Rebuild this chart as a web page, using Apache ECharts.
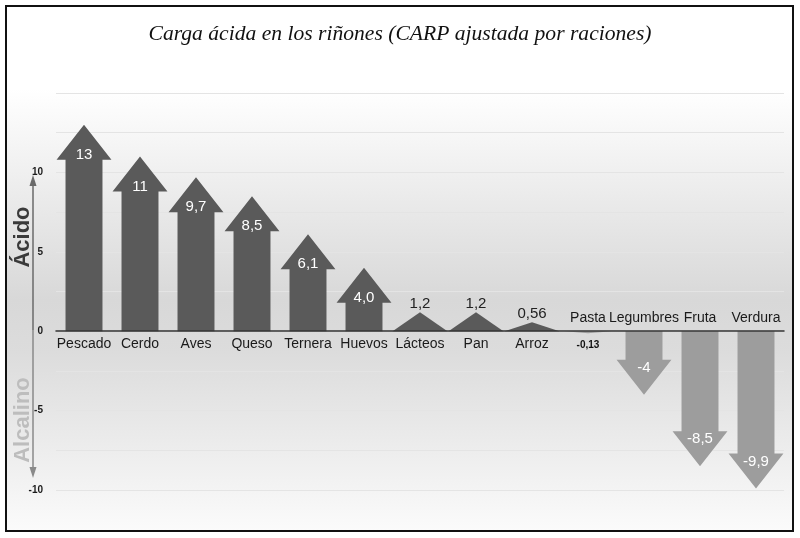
<!DOCTYPE html>
<html><head><meta charset="utf-8">
<script src="https://cdn.jsdelivr.net/npm/echarts@6/dist/echarts.min.js"></script>
<style>html,body{margin:0;padding:0;background:#fff}#c{width:800px;height:538px}</style>
</head><body><div id="c"></div>
<script>
const categories = ['Pescado','Cerdo','Aves','Queso','Ternera','Huevos','Lácteos','Pan','Arroz','Pasta','Legumbres','Fruta','Verdura'];
const values = [13, 11, 9.7, 8.5, 6.1, 4.0, 1.2, 1.2, 0.56, -0.13, -4, -8.5, -9.9];
const valueLabels = ['13','11','9,7','8,5','6,1','4,0','1,2','1,2','0,56','-0,13','-4','-8,5','-9,9'];
const yLabelTicks = [-10, -5, 0, 5, 10];

const chart = echarts.init(document.getElementById('c'), null, {renderer: 'canvas'});
const SANS = 'Liberation Sans, Arial, Helvetica, sans-serif';

function renderItem(params, api) {
  const i = api.value(0), v = api.value(1);
  const base = api.coord([i, 0]);
  const tip = api.coord([i, v]);
  const band = api.size([1, 0])[0];
  const cx = base[0];
  const shaftW = band * 0.66, headW = band * 0.98;
  const len = Math.abs(tip[1] - base[1]);
  const pos = v >= 0;
  const dir = pos ? -1 : 1;
  const headH = 35;
  let pts;
  const full = len > headH + 0.5;
  if (full) {
    const hb = tip[1] - dir * headH;
    pts = [[cx - shaftW / 2, base[1]], [cx - shaftW / 2, hb], [cx - headW / 2, hb], [cx, tip[1]],
           [cx + headW / 2, hb], [cx + shaftW / 2, hb], [cx + shaftW / 2, base[1]]];
  } else {
    const w = pos ? headW : headW * 0.85;
    pts = [[cx - w / 2, base[1]], [cx, tip[1]], [cx + w / 2, base[1]]];
  }
  const fill = pos ? '#5a5a5a' : '#9d9d9d';
  const children = [{
    type: 'polygon', shape: {points: pts}, style: {fill: fill}
  }];
  let lx = cx, ly, lstyle;
  if (full) {
    ly = pos ? tip[1] + 30 : tip[1] - 27;
    lstyle = {fill: '#fff', font: '15px ' + SANS};
  } else if (pos) {
    ly = tip[1] - 8;
    lstyle = {fill: '#222', font: '15px ' + SANS};
  } else {
    ly = base[1] + 14;
    lstyle = {fill: '#111', font: 'bold 10px ' + SANS};
  }
  children.push({
    type: 'text', z2: 10,
    style: Object.assign({text: valueLabels[i], x: lx, y: ly, align: 'center', verticalAlign: 'middle'}, lstyle)
  });
  children.push({
    type: 'text', z2: 10,
    style: {text: categories[i], x: cx, y: pos ? base[1] + 13 : base[1] - 13, align: 'center', verticalAlign: 'middle',
            fill: '#1a1a1a', font: '14px ' + SANS}
  });
  return {type: 'group', children: children};
}

const axisArrowX = 33;
chart.setOption({
  animation: false,
  backgroundColor: '#fff',
  title: {
    text: 'Carga ácida en los riñones (CARP ajustada por raciones)',
    left: 'center', top: 18,
    textStyle: {fontFamily: 'Liberation Serif, Times New Roman, serif', fontStyle: 'italic', fontWeight: 'normal', fontSize: 21.6, color: '#111'}
  },
  grid: {left: 56, right: 16, top: 93, bottom: 48},
  xAxis: {
    type: 'category', data: categories,
    axisLine: {onZero: true, lineStyle: {color: '#333', width: 1.5}},
    axisTick: {show: false}, axisLabel: {show: false}, z: 5
  },
  yAxis: {
    type: 'value', min: -10, max: 15, interval: 2.5,
    axisLine: {show: false}, axisTick: {show: false},
    splitLine: {lineStyle: {color: '#e4e4e4', width: 1}},
    axisLabel: {
      margin: 13, color: '#1a1a1a', fontSize: 10, fontWeight: 'bold',
      fontFamily: 'Liberation Sans Narrow, Arial Narrow, ' + SANS,
      formatter: function (val) { return yLabelTicks.indexOf(val) >= 0 ? String(val) : ''; }
    }
  },
  graphic: [
    {type: 'rect', z: -100, silent: true, shape: {x: 6, y: 6, width: 787, height: 525},
     style: {fill: new echarts.graphic.LinearGradient(0, 0, 0, 1, [
       {offset: 0, color: '#ffffff'}, {offset: 0.16, color: '#ffffff'},
       {offset: 0.56, color: '#d8d8d8'}, {offset: 0.66, color: '#dcdcdc'}, {offset: 1, color: '#fbfbfb'}]),
       stroke: '#111', lineWidth: 2}},
    {type: 'line', z: 10, shape: {x1: axisArrowX, y1: 180, x2: axisArrowX, y2: 330}, style: {stroke: '#6a6a6a', lineWidth: 1.5}},
    {type: 'line', z: 10, shape: {x1: axisArrowX, y1: 330, x2: axisArrowX, y2: 473}, style: {stroke: '#8a8a8a', lineWidth: 1.5}},
    {type: 'polygon', z: 10, shape: {points: [[axisArrowX, 175], [axisArrowX - 3.5, 186], [axisArrowX + 3.5, 186]]}, style: {fill: '#6a6a6a'}},
    {type: 'polygon', z: 10, shape: {points: [[axisArrowX, 478], [axisArrowX - 3.5, 467], [axisArrowX + 3.5, 467]]}, style: {fill: '#8a8a8a'}},
    {type: 'text', z: 10, x: 23, y: 237, rotation: Math.PI / 2,
     style: {text: 'Ácido', fill: '#3a3a3a', font: 'bold 22px ' + SANS, align: 'center', verticalAlign: 'middle'}},
    {type: 'text', z: 10, x: 23, y: 420, rotation: Math.PI / 2,
     style: {text: 'Alcalino', fill: '#bdbdbd', font: 'bold 22px ' + SANS, align: 'center', verticalAlign: 'middle'}}
  ],
  series: [{
    type: 'custom', renderItem: renderItem, z: 3,
    encode: {x: 0, y: 1},
    data: values.map(function (v, i) { return [i, v]; })
  }]
});
</script>
</body></html>
